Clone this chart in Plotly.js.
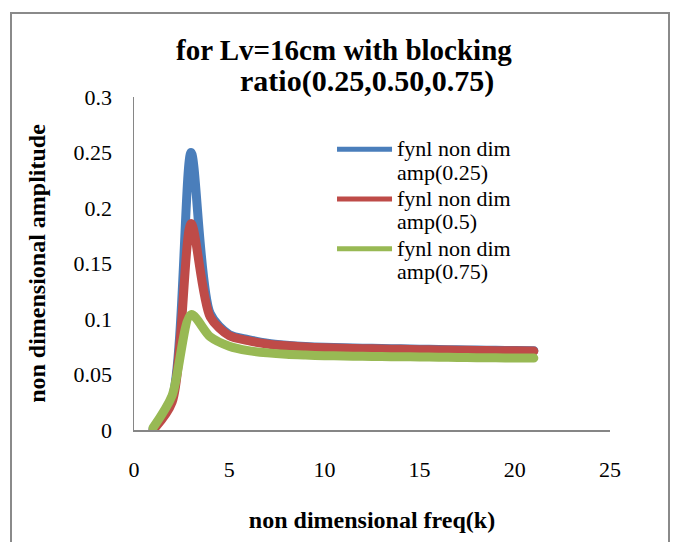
<!DOCTYPE html>
<html>
<head>
<meta charset="utf-8">
<script src="https://cdn.plot.ly/plotly-3.0.1.min.js"></script>
<style>
  html, body { margin: 0; padding: 0; background: #ffffff; }
  #wrap { position: relative; width: 680px; height: 542px; overflow: hidden; }
  #frame { position: absolute; left: 10px; top: 12px; width: 660px; height: 600px;
           border: 2px solid #8a8a8a; box-sizing: border-box; pointer-events: none; }
  #chart { position: absolute; left: 0; top: 0; width: 680px; height: 542px; }
  /* rounded ends on the plotted curves */
  #chart .scatterlayer .js-line { stroke-linecap: round; stroke-linejoin: round; }
</style>
</head>
<body>
<div id="wrap">
  <div id="chart"></div>
  <div id="frame"></div>
</div>
<script>
// non dimensional frequency k
const freqK = [1, 2, 3, 4, 5, 6, 7, 8, 9, 10, 11, 12, 13, 14, 15, 16, 17, 18, 19, 20, 21];

// final non dimensional amplitude for each blocking ratio
const amp025 = [0.001, 0.028, 0.250, 0.105, 0.086, 0.0815, 0.0782, 0.0764, 0.0752, 0.0745, 0.0741,
                0.0737, 0.0734, 0.0731, 0.0728, 0.0725, 0.0722, 0.0720, 0.0718, 0.0716, 0.0714];
const amp050 = [0.000, 0.025, 0.186, 0.102, 0.085, 0.0805, 0.0775, 0.0758, 0.0747, 0.0740, 0.0736,
                0.0733, 0.0730, 0.0727, 0.0724, 0.0721, 0.0719, 0.0717, 0.0715, 0.0713, 0.0711];
const amp075 = [0.002, 0.031, 0.104, 0.084, 0.0755, 0.0715, 0.0695, 0.0682, 0.0675, 0.0670, 0.0667,
                0.0664, 0.0662, 0.0660, 0.0658, 0.0656, 0.0654, 0.0652, 0.0650, 0.0649, 0.0648];

const seriesNames = ['fynl non dim<br>amp(0.25)', 'fynl non dim<br>amp(0.5)', 'fynl non dim<br>amp(0.75)'];
const seriesColors = ['#4a7ebb', '#be4b48', '#98b954'];
const seriesValues = [amp025, amp050, amp075];

const titleLines = ['for Lv=16cm with blocking', 'ratio(0.25,0.50,0.75)'];
const xTitle = 'non dimensional freq(k)';
const yTitle = 'non dimensional amplitude';

const serif = 'Liberation Serif, Times New Roman, serif';

// legend text: glyphs a little larger than the legend's line pitch
const legendLabel = s => s.split('<br>').map(p => '<span style="font-size:22px">' + p + '</span>').join('<br>');

// thinner copies carry the legend keys; the wide curves are drawn over them
const legendTraces = seriesValues.map((vals, i) => ({
  x: freqK, y: vals,
  name: legendLabel(seriesNames[i]),
  legendgroup: 'g' + i,
  type: 'scatter', mode: 'lines',
  line: { color: seriesColors[i], width: 5, shape: 'spline', smoothing: 0.8 },
  hoverinfo: 'skip'
}));

const curveTraces = seriesValues.map((vals, i) => ({
  x: freqK, y: vals,
  name: seriesNames[i],
  legendgroup: 'g' + i,
  showlegend: false,
  type: 'scatter', mode: 'lines',
  line: { color: seriesColors[i], width: 9, shape: 'spline', smoothing: 0.8 },
  hoverinfo: 'x+y'
}));

const layout = {
  width: 680,
  height: 542,
  margin: { l: 134, r: 70, t: 97, b: 112 },
  paper_bgcolor: '#ffffff',
  plot_bgcolor: '#ffffff',
  showlegend: true,
  font: { family: serif, color: '#000000', size: 22 },
  xaxis: {
    range: [0, 25],
    tickmode: 'linear', tick0: 0, dtick: 5,
    showgrid: false, zeroline: false,
    showline: true, linecolor: '#868686', linewidth: 1.5,
    ticks: '', ticklabelstandoff: 19,
    tickfont: { family: serif, size: 22, color: '#000000' },
    title: { text: xTitle, font: { family: serif, size: 24, color: '#000000', weight: 'bold' }, standoff: 30 },
    automargin: false
  },
  yaxis: {
    range: [0, 0.3],
    tickmode: 'linear', tick0: 0, dtick: 0.05,
    showgrid: false, zeroline: false,
    showline: true, linecolor: '#868686', linewidth: 1.5,
    ticks: '', ticklabelstandoff: 16,
    tickfont: { family: serif, size: 22, color: '#000000' },
    title: { text: yTitle, font: { family: serif, size: 24, color: '#000000', weight: 'bold' }, standoff: 21 },
    automargin: false
  },
  legend: {
    x: 0.416, y: 0.898, xanchor: 'left', yanchor: 'top',
    bgcolor: 'rgba(0,0,0,0)', borderwidth: 0,
    font: { family: serif, size: 18, color: '#000000' },
    valign: 'top', itemwidth: 55, tracegroupgap: 0
  },
  annotations: [
    { text: '<b>' + titleLines[0] + '</b>', x: 0.799, xanchor: 'right', y: 1.141, size: 29 },
    { text: '<b>' + titleLines[1] + '</b>', x: 0.49, xanchor: 'center', y: 1.048, size: 30 }
  ].map(a => ({
    text: a.text, xref: 'paper', yref: 'paper',
    x: a.x, xanchor: a.xanchor, y: a.y, yanchor: 'middle',
    showarrow: false,
    font: { family: serif, size: a.size, color: '#000000' }
  }))
};

Plotly.newPlot('chart', legendTraces.concat(curveTraces), layout, { displayModeBar: false, staticPlot: true });
</script>
</body>
</html>
